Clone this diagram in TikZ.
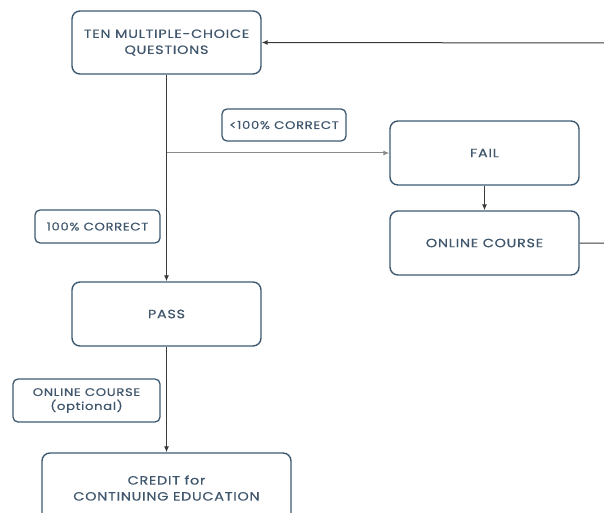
\documentclass[tikz,border=0pt]{standalone}
\usepackage{fontspec}
\setmainfont{Poppins}[FakeStretch=1.2, LetterSpace=6, FakeBold=0.6]
\usetikzlibrary{arrows.meta}
\definecolor{boxc}{HTML}{3E5A72}
\definecolor{txtc}{HTML}{3F566C}
\definecolor{linec}{HTML}{3A3A3A}
\definecolor{linel}{HTML}{8A8A8A}
\tikzset{
  box/.style={draw=boxc, line width=1.4pt, rounded corners=8pt, text=txtc, align=center, font=\fontsize{12}{16}\selectfont, inner sep=0pt},
  lbl/.style={draw=boxc, line width=1.3pt, rounded corners=5pt, text=txtc, align=center, font=\fontsize{11}{14}\selectfont, inner sep=0pt},
  conn/.style={draw=linec, line width=1pt, -{Latex[length=6pt,width=5pt]}},
  connl/.style={draw=linel, line width=1pt, -{Latex[length=6pt,width=5pt]}}
}
\begin{document}
\begin{tikzpicture}[x=1pt,y=-1pt]
\useasboundingbox (0,0) rectangle (604,513);
\node[box, minimum width=189pt, minimum height=63pt] (q) at (166.5,42.5) {TEN MULTIPLE-CHOICE\\QUESTIONS};
\node[box, minimum width=189pt, minimum height=64pt] (fail) at (484.5,153) {FAIL};
\node[box, minimum width=189pt, minimum height=64pt] (oc) at (484.5,243) {ONLINE COURSE};
\node[box, minimum width=189pt, minimum height=64pt] (pass) at (166.5,314) {PASS};
\node[box, minimum width=249pt, minimum height=70pt] (credit) at (166.5,488) {CREDIT for\\CONTINUING EDUCATION};
\node[lbl, minimum width=124pt, minimum height=32pt] (l1) at (284,125) {<100\% CORRECT};
\node[lbl, minimum width=125pt, minimum height=33pt] (l2) at (97.5,226.5) {100\% CORRECT};
\node[lbl, minimum width=147pt, minimum height=43pt] (l3) at (86.5,400.5) {ONLINE COURSE\\(optional)};
\coordinate (br) at (q.south |- fail.west);
\coordinate (e1) at (620,243);
\coordinate (e2) at (620,43);
\draw[conn] (q.south) -- (pass.north);
\draw[connl] (br) -- (fail.west);
\draw[conn] (fail.south) -- (oc.north);
\draw[conn] (pass.south) -- (credit.north);
\draw[conn] (oc.east) -- (e1) -- (e2) -- (q.east);
\end{tikzpicture}
\end{document}
